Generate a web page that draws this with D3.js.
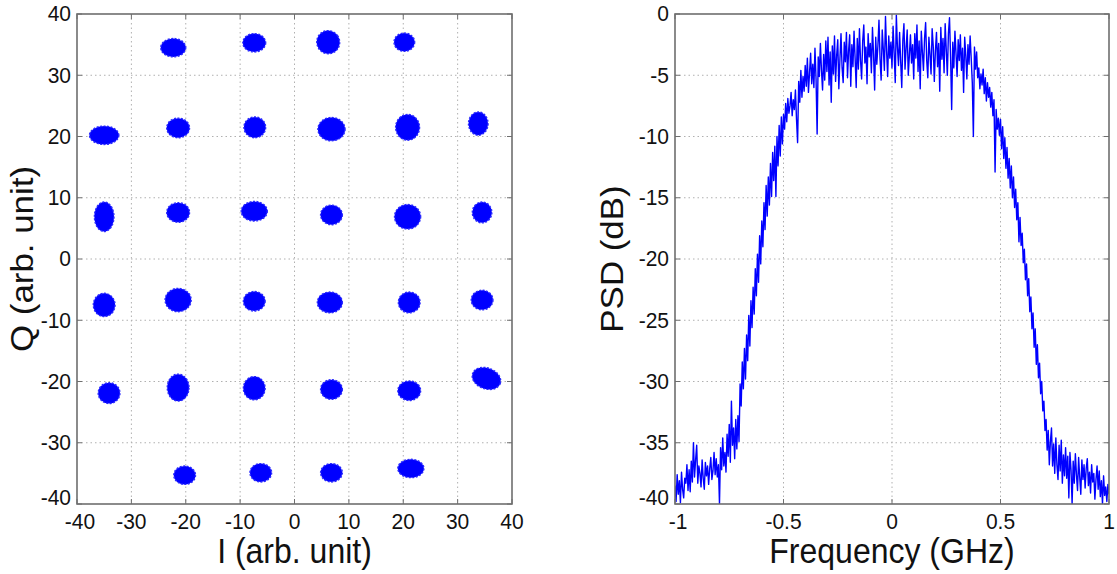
<!DOCTYPE html>
<html><head><meta charset="utf-8">
<script src="https://cdn.jsdelivr.net/npm/d3@7"></script>
<style>
html,body{margin:0;padding:0;background:#fff;}
svg text{font-family:"Liberation Sans",Arial,sans-serif;fill:#111;}
</style></head>
<body>
<svg id="c" width="1117" height="574"></svg>
<script>
// ---------- Constellation (left) ----------
const clusterI = [-22.3,-7.4,6.2,20.2, -35,-21.4,-7.3,6.8,20.8,33.8, -35,-21.4,-7.4,6.8,20.8,34.5, -35,-21.4,-7.4,6.5,21.1,34.5, -34.1,-21.4,-7.4,6.8,21.1,35.3, -20.2,-6.2,6.8,21.4];
const clusterQ = [34.5,35.3,35.4,35.4, 20.2,21.4,21.5,21.2,21.5,22.1, 6.9,7.6,7.8,7.2,6.9,7.6, -7.5,-6.7,-6.9,-7.1,-7.1,-6.7, -21.9,-21.0,-21.1,-21.3,-21.5,-19.5, -35.3,-34.9,-34.9,-34.2];
const spreadI = [2.3,2.1,2.1,1.9, 2.7,2.1,2.0,2.5,2.2,1.8, 1.8,2.1,2.4,2.0,2.4,1.8, 2.0,2.4,2.0,2.3,2.0,2.0, 2.0,2.0,2.0,2.0,2.1,2.7, 2.0,2.0,2.0,2.4];
const spreadQ = [1.5,1.5,1.9,1.5, 1.5,1.6,1.7,1.9,2.1,1.9, 2.4,1.6,1.6,1.6,2.0,1.7, 1.9,1.9,1.6,1.7,1.7,1.6, 1.7,2.2,1.9,1.6,1.6,1.7, 1.5,1.5,1.5,1.5];
const tiltDeg = [0,0,-35,0, 0,0,0,0,0,0, 0,0,0,0,0,0, 0,0,0,0,0,0, 0,0,0,0,0,20, 0,0,0,0];
const iqTicks = [-40,-30,-20,-10,0,10,20,30,40];
const iqTickLabels = ["-40","-30","-20","-10","0","10","20","30","40"];

// ---------- PSD (right) ----------
const freqStart = -1, freqStep = 0.005;
const psd = [
-38.5,-39.8,-37.6,-39.2,-38.1,-39.9,-37.4,-38.8,-39.5,-37.9,-38.3,-36.8,-38.9,-37.2,-39.0,-36.5,-38.2,-35.0,-37.8,-36.4,
-35.2,-38.3,-36.9,-37.5,-38.6,-36.4,-37.9,-38.8,-36.6,-37.7,-36.9,-38.4,-37.1,-36.2,-38.0,-37.3,-35.8,-37.6,-36.3,-37.8,
-36.8,-40.0,-35.4,-37.2,-34.6,-36.9,-35.8,-37.4,-34.3,-36.1,-33.5,-36.6,-31.6,-35.2,-33.8,-36.3,-33.1,-35.5,-32.8,-34.9,
-30.2,-32.0,-28.4,-30.6,-27.3,-29.8,-26.2,-28.3,-24.6,-27.1,-23.4,-25.6,-22.3,-24.5,-20.8,-23.0,-19.6,-21.9,-18.1,-20.4,
-16.9,-19.0,-15.4,-17.6,-14.0,-16.5,-13.3,-15.6,-12.2,-14.9,-11.3,-13.6,-10.8,-14.9,-10.0,-12.4,-9.1,-11.6,-8.4,-10.6,
-8.2,-9.4,-7.3,-8.8,-6.9,-8.1,-7.5,-6.4,-8.3,-7.0,-7.8,-6.2,-8.6,-10.5,-5.5,-7.2,-4.6,-6.8,-5.1,-6.3,
-4.2,-5.9,-3.6,-6.4,-4.8,-3.2,-5.7,-4.1,-6.0,-2.8,-5.3,-9.8,-3.5,-5.1,-2.4,-4.6,-6.2,-3.3,-5.4,-2.2,
-4.7,-1.9,-5.8,-3.1,-7.2,-2.6,-4.9,-1.8,-5.5,-3.4,-2.1,-6.1,-3.7,-1.6,-4.4,-5.6,-2.3,-3.9,-1.5,-5.2,
-3.0,-1.7,-5.9,-2.5,-4.3,-1.4,-3.6,-6.0,-2.0,-4.5,-1.2,-3.8,-5.3,-2.2,-0.9,-4.0,-2.7,-5.7,-1.6,-3.5,
-2.4,-4.8,-1.1,-3.3,-6.2,-1.9,-4.1,-2.6,-0.5,-3.7,-5.4,-1.3,-2.9,-4.6,-0.2,-3.0,-5.1,-1.8,-3.6,-2.3,
-4.4,-1.0,-3.2,-5.6,-0.1,-2.7,-4.2,-1.5,-3.9,-6.0,-2.1,-0.8,-4.5,-2.8,-1.3,-5.0,-3.4,-1.7,-4.0,-2.5,
-5.3,-1.6,-3.6,-0.9,-4.7,-2.2,-6.1,-1.4,-3.1,-4.6,-2.0,-0.7,-3.8,-5.2,-1.9,-3.3,-4.9,-1.2,-2.6,-5.5,
-3.0,-1.5,-4.3,-2.4,-6.3,-1.1,-3.7,-2.0,-4.8,-0.8,-2.9,-5.0,-1.6,-0.3,-3.5,-7.8,-2.3,-4.4,-1.4,-3.2,
-5.1,-2.1,-3.8,-1.7,-4.6,-2.8,-6.4,-1.9,-3.4,-5.3,-2.5,-4.1,-1.8,-3.6,-5.6,-10.0,-2.7,-4.5,-3.1,-5.2,
-4.4,-6.1,-4.9,-5.8,-4.5,-6.5,-5.2,-7.1,-5.6,-6.8,-6.0,-7.6,-6.4,-8.3,-7.0,-12.9,-7.8,-9.4,-8.5,-9.9,
-8.6,-11.0,-9.2,-11.8,-10.1,-12.6,-10.9,-13.4,-11.8,-14.2,-12.4,-15.0,-13.3,-15.8,-14.3,-16.8,-15.4,-18.6,-16.6,-18.9,
-17.9,-20.3,-19.2,-21.7,-20.4,-23.0,-21.6,-24.3,-23.1,-25.7,-24.4,-27.2,-25.7,-28.6,-27.0,-29.7,-28.5,-31.0,-30.0,-32.4,
-31.6,-34.0,-33.1,-35.6,-34.0,-36.8,-34.9,-33.8,-36.9,-35.1,-37.5,-34.6,-36.8,-38.0,-35.2,-37.3,-34.8,-38.3,-36.0,-37.7,
-35.4,-37.9,-36.1,-39.5,-35.8,-37.2,-40.0,-36.5,-38.3,-35.9,-37.6,-38.9,-36.2,-37.8,-39.2,-36.4,-38.0,-36.8,-38.7,-37.1,
-36.3,-38.5,-37.4,-39.1,-36.8,-38.2,-37.5,-39.6,-38.0,-36.9,-38.8,-37.3,-39.4,-38.1,-40.0,-37.7,-39.3,-38.6,-39.8,-38.4,
-39.2];
const freqTicks = [-1,-0.5,0,0.5,1];
const freqTickLabels = ["-1","-0.5","0","0.5","1"];
const psdTicks = [0,-5,-10,-15,-20,-25,-30,-35,-40];
const psdTickLabels = ["0","-5","-10","-15","-20","-25","-30","-35","-40"];

const svg = d3.select("#c");
const blue = "#0000ff";

function panel(cfg){
  const g = svg.append("g");
  const x = cfg.x, y = cfg.y;
  const [X0,X1] = x.range(), [Y1,Y0] = y.range();
  const grid = g.append("g").attr("stroke","#b0b0b0").attr("stroke-width",1).attr("stroke-dasharray","1.5,3");
  const xmin=d3.min(cfg.xt), xmax=d3.max(cfg.xt), ymin=d3.min(cfg.yt), ymax=d3.max(cfg.yt);
  cfg.xt.forEach(v=>{ if(v!==xmin && v!==xmax) grid.append("line").attr("x1",x(v)).attr("x2",x(v)).attr("y1",Y0).attr("y2",Y1); });
  cfg.yt.forEach(v=>{ if(v!==ymin && v!==ymax) grid.append("line").attr("y1",y(v)).attr("y2",y(v)).attr("x1",X0).attr("x2",X1); });
  const data = g.append("g");
  cfg.draw(data);
  const fr = g.append("g").attr("stroke","#6e6e6e").attr("fill","none");
  fr.append("rect").attr("x",X0).attr("y",Y0).attr("width",X1-X0).attr("height",Y1-Y0).attr("stroke-width",1.6);
  cfg.xt.forEach(v=>{
    fr.append("line").attr("x1",x(v)).attr("x2",x(v)).attr("y1",Y1).attr("y2",Y1-5);
    fr.append("line").attr("x1",x(v)).attr("x2",x(v)).attr("y1",Y0).attr("y2",Y0+5);
  });
  cfg.yt.forEach(v=>{
    fr.append("line").attr("y1",y(v)).attr("y2",y(v)).attr("x1",X0).attr("x2",X0+5);
    fr.append("line").attr("y1",y(v)).attr("y2",y(v)).attr("x1",X1).attr("x2",X1-5);
  });
  cfg.xt.forEach((v,i)=>{
    const ty=Y1+25;
    g.append("text").attr("x",x(v)+(v===xmin?3:0)).attr("y",ty).attr("text-anchor","middle").attr("font-size",21)
      .attr("transform",`translate(0,${-ty*0.06}) scale(1,1.06)`).text(cfg.xl[i]);
  });
  cfg.yt.forEach((v,i)=>{
    const ty=y(v)+7.5-(v===ymin?6:0);
    g.append("text").attr("x",X0-6).attr("y",ty).attr("text-anchor","end").attr("font-size",21)
      .attr("transform",`translate(0,${-ty*0.06}) scale(1,1.06)`).text(cfg.yl[i]);
  });
  const xty=Y1+59;
  g.append("text").attr("x",(X0+X1)/2).attr("y",xty).attr("text-anchor","middle").attr("font-size",32)
    .attr("transform",`translate(0,${-xty*0.08}) scale(1,1.08)`).text(cfg.xTitle);
  g.append("text").attr("transform",`translate(${cfg.yTitleX},${(Y0+Y1)/2}) rotate(-90) scale(1.09,1)`).attr("text-anchor","middle").attr("font-size",32).text(cfg.yTitle);
}

// Left
const xIQ = d3.scaleLinear().domain([-40,40]).range([77,512]);
const yIQ = d3.scaleLinear().domain([-40,40]).range([504,14]);
panel({x:xIQ,y:yIQ,xt:iqTicks,yt:iqTicks,xl:iqTickLabels,yl:iqTickLabels,
  xTitle:"I (arb. unit)", yTitle:"Q (arb. unit)", yTitleX:33,
  draw:(g)=>{
    clusterI.forEach((ci,k)=>{
      const cx=xIQ(ci), cy=yIQ(clusterQ[k]);
      const rx=xIQ(ci+spreadI[k])-cx, ry=cy-yIQ(clusterQ[k]+spreadQ[k]);
      g.append("ellipse").attr("cx",cx).attr("cy",cy).attr("rx",rx).attr("ry",ry)
        .attr("transform",`rotate(${tiltDeg[k]},${cx},${cy})`)
        .attr("fill",blue).attr("stroke","#2a2aff").attr("stroke-width",1.4).attr("stroke-dasharray","2,1.5");
    });
  }});

// Right
const xF = d3.scaleLinear().domain([-1,1]).range([675,1109]);
const yP = d3.scaleLinear().domain([-40,0]).range([504,14]);
panel({x:xF,y:yP,xt:freqTicks,yt:psdTicks,xl:freqTickLabels,yl:psdTickLabels,
  xTitle:"Frequency (GHz)", yTitle:"PSD (dB)", yTitleX:623,
  draw:(g)=>{
    svg.append("clipPath").attr("id","clipP").append("rect").attr("x",675).attr("y",14).attr("width",434).attr("height",490);
    const line = d3.line().x((d,i)=>xF(freqStart+i*freqStep)).y(d=>yP(d));
    g.append("path").datum(psd).attr("d",line).attr("clip-path","url(#clipP)")
      .attr("fill","none").attr("stroke",blue).attr("stroke-width",1.4).attr("stroke-linejoin","round");
  }});
</script>
</body></html>
